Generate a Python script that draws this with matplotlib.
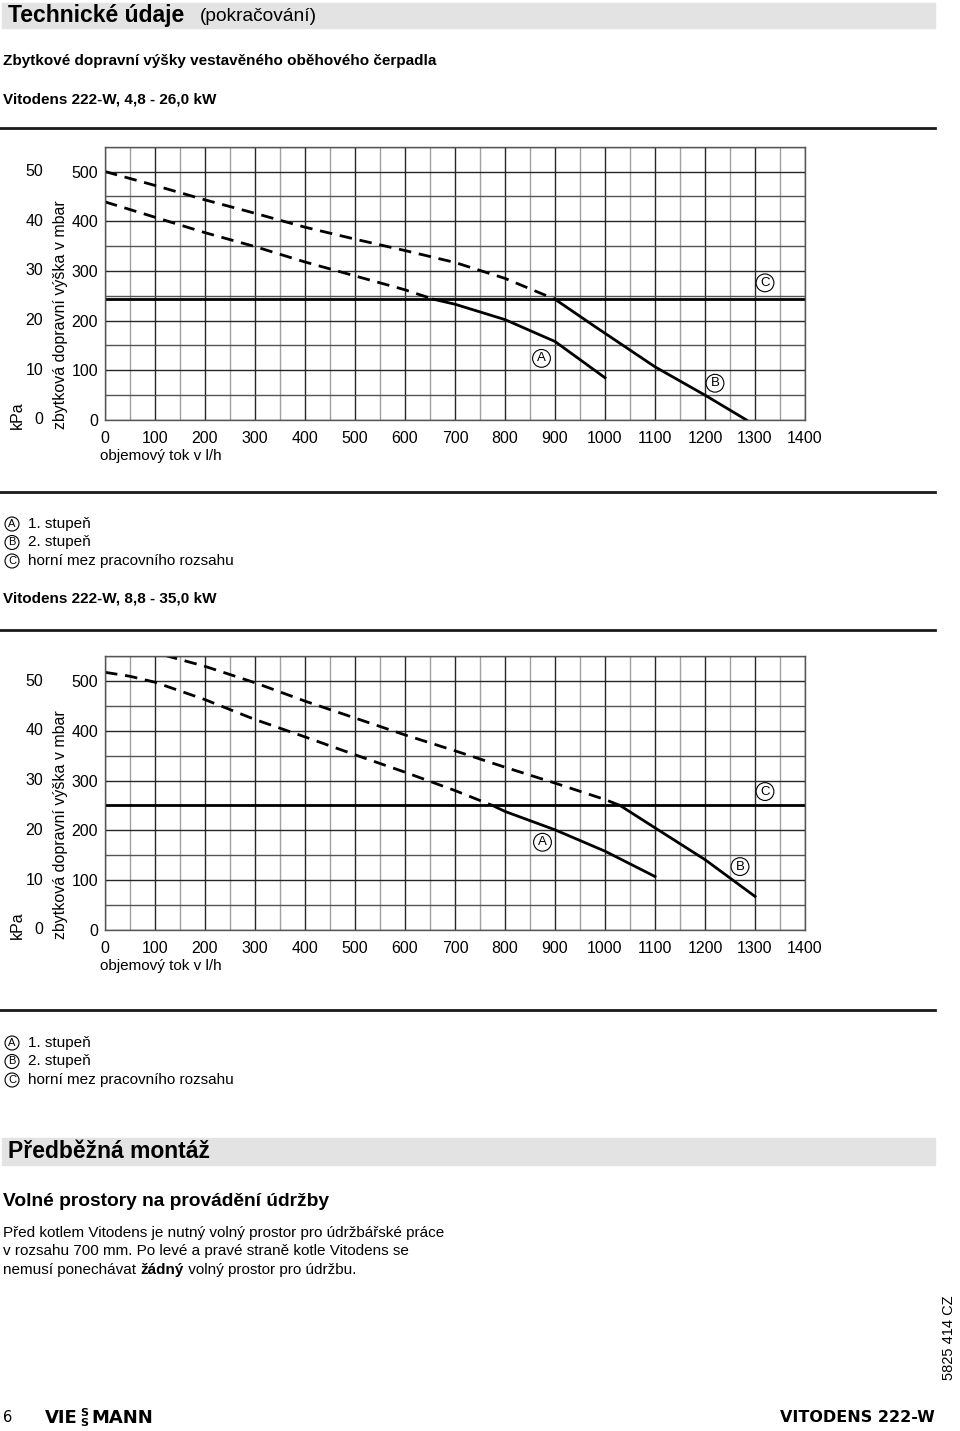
import numpy as np
import matplotlib
matplotlib.use("Agg")
import matplotlib.pyplot as plt
from matplotlib.patches import Rectangle
from matplotlib.lines import Line2D
import matplotlib.transforms as mtransforms

plt.rcParams['font.family'] = ['Liberation Sans', 'DejaVu Sans']

W, H = 960, 1431

# chart 1: Vitodens 222-W, 4,8 - 26,0 kW
flow1_A = [0, 100, 200, 300, 400, 500, 600, 657, 700, 800, 900, 1000]
head1_A = [439, 408, 377, 349, 318, 290, 262, 243, 233, 202, 158, 85]
flow1_B = [0, 100, 200, 300, 400, 500, 600, 700, 800, 900, 980, 1100, 1200, 1283]
head1_B = [500, 472, 443, 416, 388, 364, 341, 317, 285, 243, 188, 107, 50, 0]
limit1_C = 243

# chart 2: Vitodens 222-W, 8,8 - 35,0 kW
flow2_A = [0, 50, 100, 200, 300, 400, 500, 600, 700, 775, 800, 900, 1000, 1100]
head2_A = [518, 510, 498, 463, 423, 388, 352, 317, 280, 250, 238, 201, 158, 107]
flow2_B = [120, 200, 300, 400, 500, 600, 700, 800, 900, 1000, 1030, 1100, 1200, 1300]
head2_B = [552, 530, 497, 460, 426, 392, 360, 327, 295, 262, 250, 205, 141, 67]
limit2_C = 250

x_ticks = list(range(0, 1500, 100))
mbar_ticks = [0, 100, 200, 300, 400, 500]
kpa_labels = ['0', '10', '20', '30', '40', '50']

legend_items = [('A', '1. stupeň'), ('B', '2. stupeň'), ('C', 'horní mez pracovního rozsahu')]

FS = 11.5

fig = plt.figure(figsize=(W / 100, H / 100), dpi=100)


def fx(x):
    return x / W


def fy(y):
    return 1 - y / H


def hline(y, lw=2.0):
    fig.add_artist(Line2D([fx(0), fx(935)], [fy(y), fy(y)], color='#1a1a1a', lw=lw))


def gray_bar(y0, y1):
    fig.add_artist(Rectangle((fx(2), fy(y1)), fx(935) - fx(2), (y1 - y0) / H,
                             color='#e3e3e3', zorder=0))


def circled(target, x, y, letter, size=9.5, pad=0.22, **kw):
    target.text(x, y, letter, ha='center', va='center', fontsize=size,
                bbox=dict(boxstyle='circle,pad=%s' % pad, fc='white', ec='black', lw=0.8),
                **kw)


def chart(top, flowA, headA, flowB, headB, limC, posA, posB, posC):
    bottom = top + 273.3
    ax = fig.add_axes([fx(105), fy(bottom), 700 / W, 273.3 / H])
    ax.set_xlim(0, 1400)
    ax.set_ylim(0, 550)
    ax.set_xticks(x_ticks)
    ax.set_xticks(range(50, 1400, 100), minor=True)
    ax.set_yticks(mbar_ticks + [550])
    ax.set_yticklabels([str(v) for v in mbar_ticks] + [''])
    ax.set_yticks(range(50, 550, 100), minor=True)
    ax.tick_params(which='both', length=0)
    ax.tick_params(axis='x', pad=8, labelsize=FS)
    ax.tick_params(axis='y', pad=5, labelsize=FS)
    ax.grid(which='major', color='#262626', lw=1.0)
    ax.grid(which='minor', axis='x', color='#a0a0a0', lw=1.0)
    ax.grid(which='minor', axis='y', color='#555555', lw=1.0)
    ax.set_axisbelow(True)
    for s in ax.spines.values():
        s.set_color('#555555')
        s.set_linewidth(1.0)

    # kPa column
    tr = mtransforms.blended_transform_factory(ax.transAxes, ax.transData)
    for v, lab in zip(mbar_ticks, kpa_labels):
        ax.text(-62 / 700, v, lab, transform=tr, ha='right', va='center', fontsize=FS)

    fig.text(fx(17), fy(bottom + 9), 'kPa', rotation=90, rotation_mode='anchor',
             ha='left', va='center', fontsize=FS)
    fig.text(fx(60), fy(bottom + 9), 'zbytková dopravní výška v mbar', rotation=90,
             rotation_mode='anchor', ha='left', va='center', fontsize=FS)
    fig.text(fx(100), fy(bottom + 36), 'objemový tok v l/h', ha='left', va='center',
             fontsize=11)

    # curves: dashed above the upper limit C, solid below
    for fl, hd in ((flowA, headA), (flowB, headB)):
        fl = np.array(fl)
        hd = np.array(hd)
        up = hd >= limC
        dn = hd <= limC
        ax.plot(fl[up], hd[up], color='black', lw=2.0, ls=(0, (4.5, 2.8)),
                solid_capstyle='butt')
        ax.plot(fl[dn], hd[dn], color='black', lw=2.0)
    ax.axhline(limC, color='black', lw=2.0)

    circled(ax, posA[0], posA[1], 'A')
    circled(ax, posB[0], posB[1], 'B')
    circled(ax, posC[0], posC[1], 'C')
    return ax


def legend(y0):
    for i, (letter, txt) in enumerate(legend_items):
        y = y0 + i * 18.5
        circled(fig, fx(12), fy(y), letter, size=8, pad=0.18, transform=fig.transFigure)
        fig.text(fx(28), fy(y), txt, ha='left', va='center', fontsize=11)


# header
gray_bar(3, 28)
fig.text(fx(8), fy(15.5), 'Technické údaje', ha='left', va='center',
         fontsize=16.5, fontweight='bold')
fig.text(fx(200), fy(16.5), '(pokračování)', ha='left', va='center', fontsize=13.8)

fig.text(fx(3), fy(61), 'Zbytkové dopravní výšky vestavěného oběhového čerpadla',
         ha='left', va='center', fontsize=11, fontweight='bold')
fig.text(fx(3), fy(99), 'Vitodens 222-W, 4,8 - 26,0 kW', ha='left', va='center',
         fontsize=11, fontweight='bold')

hline(128)
chart(146.7, flow1_A, head1_A, flow1_B, head1_B, limit1_C,
      (873, 124), (1220, 74), (1320, 276))
hline(492)
legend(524)

fig.text(fx(3), fy(599), 'Vitodens 222-W, 8,8 - 35,0 kW', ha='left', va='center',
         fontsize=11, fontweight='bold')
hline(630)
chart(656.4, flow2_A, head2_A, flow2_B, head2_B, limit2_C,
      (875, 176), (1270, 127), (1320, 278))
hline(1010)
legend(1043)

# second section
gray_bar(1138, 1165)
fig.text(fx(8), fy(1152), 'Předběžná montáž', ha='left', va='center',
         fontsize=16.5, fontweight='bold')
fig.text(fx(3), fy(1202), 'Volné prostory na provádění údržby', ha='left', va='center',
         fontsize=13.8, fontweight='bold')
fig.text(fx(3), fy(1233), 'Před kotlem Vitodens je nutný volný prostor pro údržbářské práce',
         ha='left', va='center', fontsize=11)
fig.text(fx(3), fy(1251), 'v rozsahu 700 mm. Po levé a pravé straně kotle Vitodens se',
         ha='left', va='center', fontsize=11)
p1 = fig.text(fx(3), fy(1270), 'nemusí ponechávat ', ha='left', va='center', fontsize=11)
r = fig.canvas.get_renderer()
x1 = p1.get_window_extent(r).x1
p2 = fig.text(x1 / W, fy(1270), 'žádný', ha='left', va='center', fontsize=11,
              fontweight='bold')
x2 = p2.get_window_extent(r).x1
fig.text(x2 / W, fy(1270), ' volný prostor pro údržbu.', ha='left', va='center',
         fontsize=11)

# footer
fig.text(fx(949), fy(1338), '5825 414 CZ', rotation=90, ha='center', va='center',
         fontsize=10.5)
fig.text(fx(3), fy(1418), '6', ha='left', va='center', fontsize=10.5, family='DejaVu Sans')
fig.text(fx(45), fy(1418), 'VIE', ha='left', va='center', fontsize=13,
         fontweight='bold', family='DejaVu Sans')
fig.text(fx(80.5), fy(1412.5), 'S', ha='left', va='center', fontsize=8,
         fontweight='bold', family='DejaVu Sans')
fig.text(fx(80.5), fy(1423), 'S', ha='left', va='center', fontsize=8,
         fontweight='bold', family='DejaVu Sans')
fig.text(fx(91), fy(1418), 'MANN', ha='left', va='center', fontsize=13,
         fontweight='bold', family='DejaVu Sans')
fig.text(fx(935), fy(1418), 'VITODENS 222-W', ha='right', va='center', fontsize=11.5,
         fontweight='bold', family='DejaVu Sans')

fig.savefig('out.png', dpi=100, facecolor='white')
